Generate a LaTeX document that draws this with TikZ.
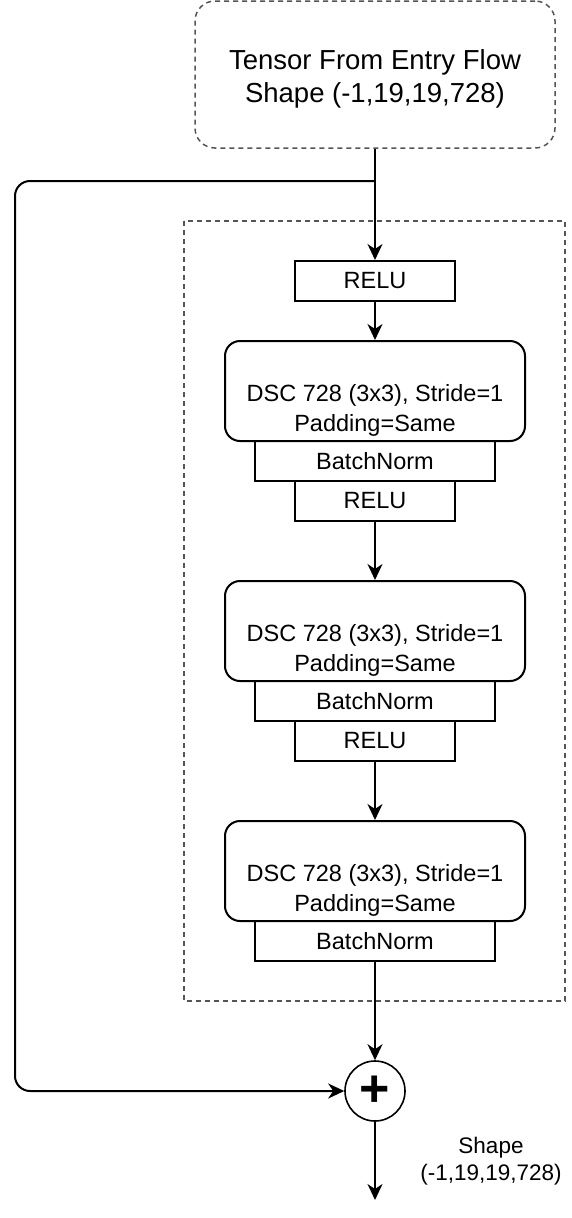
\documentclass[tikz,border=0pt]{standalone}
\usepackage{fontspec}
\setmainfont{Liberation Sans}
\usetikzlibrary{arrows.meta}
\definecolor{dashgray}{HTML}{555555}
\newcommand{\lowtext}[2]{\raisebox{-#1}[\height][\depth]{\begin{tabular}{@{}c@{}}#2\end{tabular}}}
\tikzset{
    layer/.style={draw, line width=2pt, minimum height=40pt, inner sep=0pt,
        font=\fontsize{23.5}{30}\selectfont},
    relubox/.style={layer, minimum width=160pt},
    normbox/.style={layer, minimum width=240pt},
    convbox/.style={layer, minimum width=300pt, minimum height=100pt,
        rounded corners=15pt},
    flow/.style={line width=2pt, -{Stealth[length=16pt,width=15pt,inset=5pt]}}
}
\begin{document}
\begin{tikzpicture}[x=1pt,y=-1pt]
            \useasboundingbox (0,0) rectangle (572,1218);

            \node[draw=dashgray, dash pattern=on 5pt off 4pt, line width=1.5pt,
                rounded corners=20pt, minimum width=360pt, minimum height=147pt,
                font=\fontsize{27.5}{33}\selectfont]
                (entry) at (375,74.5) {\lowtext{5pt}{Tensor From Entry Flow\\Shape (-1,19,19,728)}};

                % middle flow block
            \draw[dashgray, dash pattern=on 5pt off 4pt, line width=1.5pt]
                (184,221) rectangle (565,1001);

            \node[relubox] (relu1) at (375,281) {RELU};
            \node[convbox] (dsc1)  at (375,391) {\lowtext{19pt}{DSC 728 (3x3), Stride=1\\Padding=Same}};
            \node[normbox] (bn1)   at (375,461) {BatchNorm};
            \node[relubox] (relu2) at (375,501) {RELU};
            \node[convbox] (dsc2)  at (375,631) {\lowtext{19pt}{DSC 728 (3x3), Stride=1\\Padding=Same}};
            \node[normbox] (bn2)   at (375,701) {BatchNorm};
            \node[relubox] (relu3) at (375,741) {RELU};
            \node[convbox] (dsc3)  at (375,871) {\lowtext{19pt}{DSC 728 (3x3), Stride=1\\Padding=Same}};
            \node[normbox] (bn3)   at (375,941) {BatchNorm};

            \node[draw, circle, line width=1.6pt, minimum size=60pt, inner sep=0pt,
                font=\fontsize{52}{52}\selectfont\bfseries] (add) at (375,1091) {+};

            \coordinate (split) at (375,181);
            \coordinate (skip)  at (15,1091);
            \coordinate (out)   at (375,1200);

            \node[align=center, font=\fontsize{22.5}{27}\selectfont]
                (outshape) at (491,1162) {\strut Shape\\(-1,19,19,728)\strut};

            \draw[flow] (entry) -- (relu1);
            \draw[flow] (relu1) -- (dsc1);
            \draw[flow] (relu2) -- (dsc2);
            \draw[flow] (relu3) -- (dsc3);
            \draw[flow] (bn3) -- (add);
            \draw[flow] (add) -- (out);

                % residual connection
            \draw[flow, rounded corners=15pt] (split) -| (skip) -- (add);
        \end{tikzpicture}
\end{document}
